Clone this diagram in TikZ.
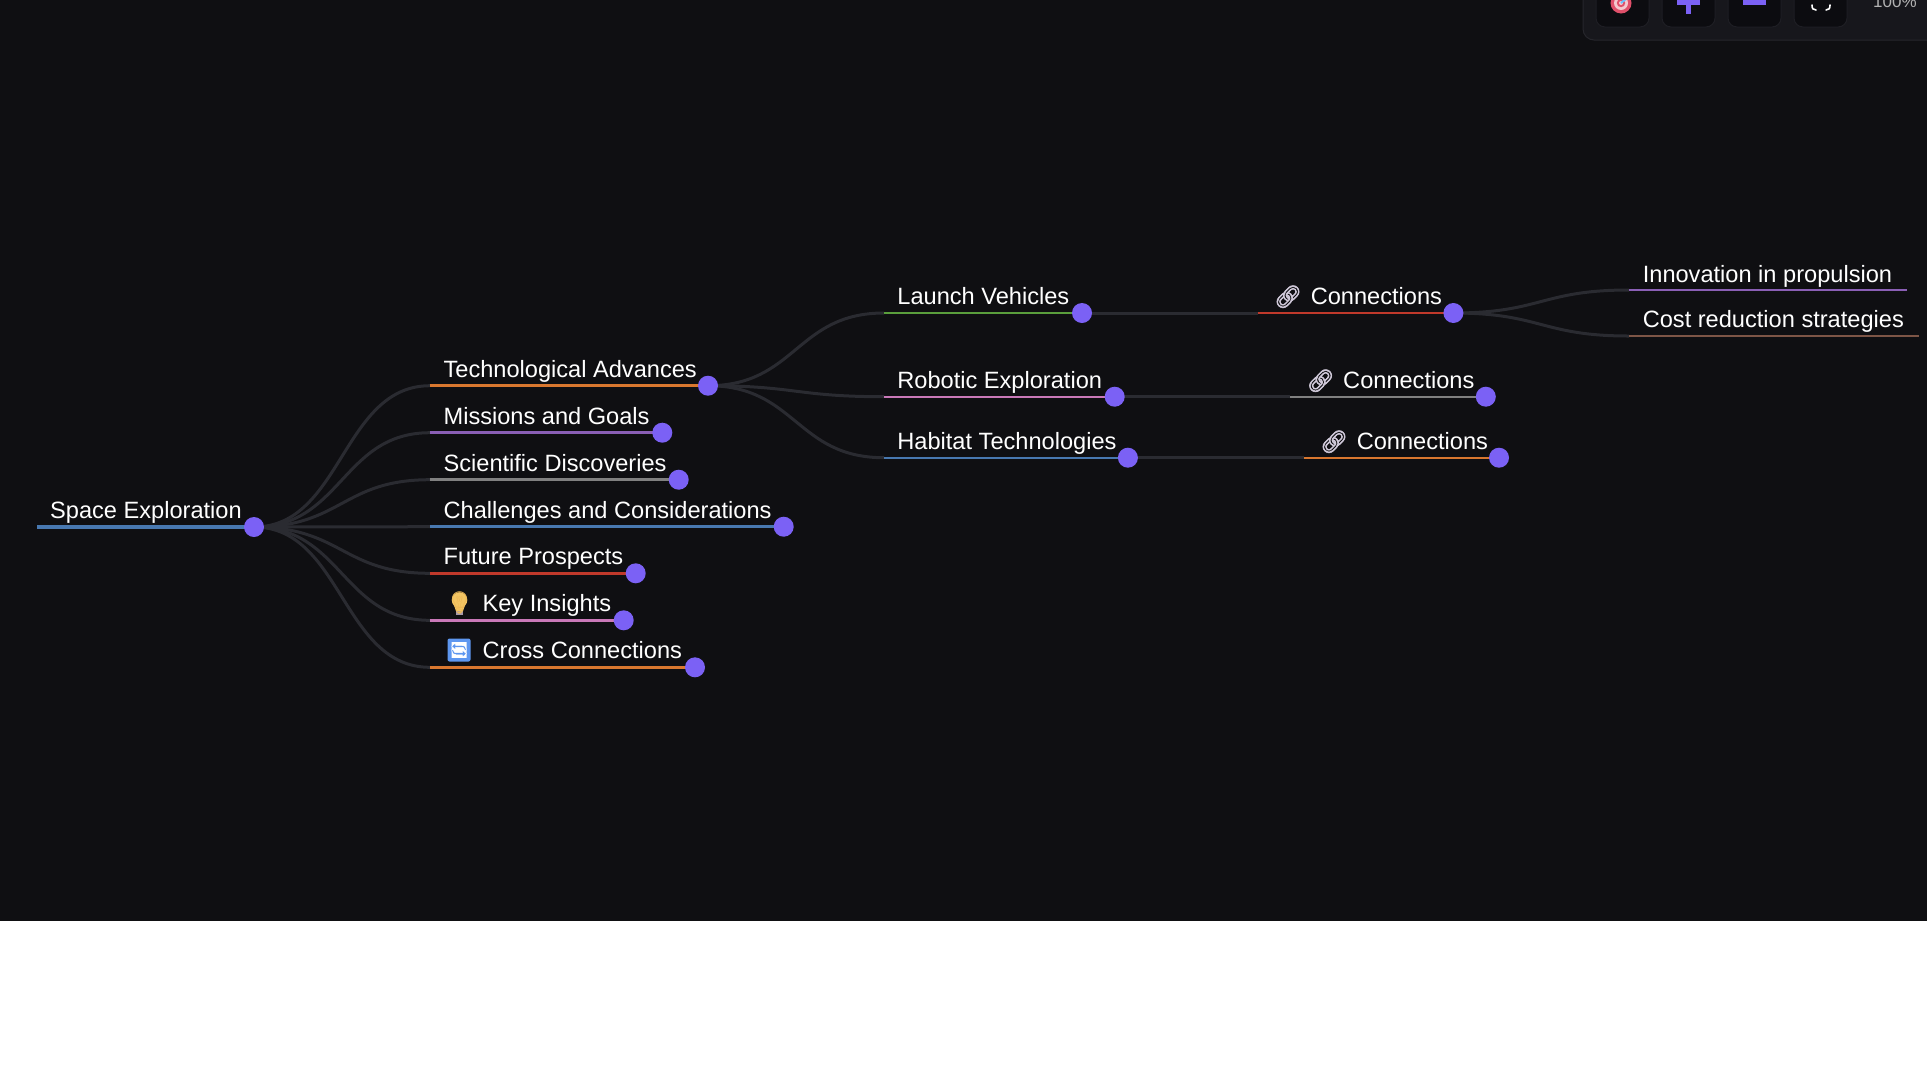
\documentclass[tikz,border=0pt]{standalone}
\usepackage{fontspec}
\setmainfont{Liberation Sans}
\newfontfamily\emojifont{Noto Emoji}
\newfontfamily\emojibold[FakeBold=2.5]{Noto Emoji}
\usetikzlibrary{calc,backgrounds}
\definecolor{pagebg}{HTML}{0F0F12}
\definecolor{linkc}{HTML}{2A2B31}
\definecolor{dotc}{HTML}{7B61F5}
\definecolor{lblue}{HTML}{4878B0}
\definecolor{lorange}{HTML}{D9772F}
\definecolor{lpurple}{HTML}{8A5FB5}
\definecolor{lgray}{HTML}{808080}
\definecolor{lred}{HTML}{C0392B}
\definecolor{lpink}{HTML}{C978B8}
\definecolor{lgreen}{HTML}{5A9E3C}
\definecolor{lbrown}{HTML}{7D5546}
\definecolor{panelc}{HTML}{17171C}
\definecolor{panelb}{HTML}{26262C}
\definecolor{btnc}{HTML}{0C0C10}
\definecolor{btnb}{HTML}{1E1E24}
\definecolor{linkicon}{HTML}{CFC8D8}
\definecolor{bulbc}{HTML}{F3C563}
\definecolor{bulbd}{HTML}{EDB957}
\definecolor{bulbb}{HTML}{A89AA8}
\definecolor{syncbg}{HTML}{5E97F0}
\definecolor{tgred}{HTML}{E0506A}
\definecolor{tgpale}{HTML}{F4C8CE}
\tikzset{
  lbl/.style={anchor=base west,inner sep=0pt,text=white,font=\fontsize{23.6}{28}\selectfont},
  emo/.style={anchor=center,inner sep=0pt,font=\emojibold\fontsize{22}{26}\selectfont},
  dot/.style={circle,fill=dotc,draw=none,minimum size=20pt,inner sep=0pt},
  link/.style={draw=linkc,line width=3pt},
  under/.style={line width=3pt},
  thin under/.style={line width=2.2pt},
  panel/.style={draw=panelb,fill=panelc,line width=1pt,rounded corners=11pt},
  btn/.style={draw=btnb,fill=btnc,line width=1pt,rounded corners=9pt},
}
\newcommand{\curvelink}[2]{\draw[link] (#1.center) .. controls ($(#1.center)!0.5!(#1.center-|#2)$) and ($(#2)!0.5!(#2-|#1.center)$) .. (#2);}
\begin{document}
\begin{tikzpicture}[x=1pt,y=-1pt]
\useasboundingbox (0,0) rectangle (1927,1080);
\clip (0,0) rectangle (1927,1080);
% dots and line starts
\node[dot] (d0) at (254,527) {};
\coordinate (s0) at (37,527);
\node[dot] (d1) at (708,385.7) {};   \coordinate (s1) at (430,385.7);
\node[dot] (d2) at (662.3,432.7) {}; \coordinate (s2) at (430,432.7);
\node[dot] (d3) at (678.7,479.7) {}; \coordinate (s3) at (430,479.7);
\node[dot] (d4) at (783.7,526.7) {}; \coordinate (s4) at (430,526.7);
\node[dot] (d5) at (635.7,573.3) {}; \coordinate (s5) at (430,573.3);
\node[dot] (d6) at (623.7,620.3) {}; \coordinate (s6) at (430,620.3);
\node[dot] (d7) at (695,667.3) {}; \coordinate (s7) at (430,667.3);
\node[dot] (e1) at (1082,313) {};  \coordinate (t1) at (884,313);
\node[dot] (e2) at (1114.7,396.7) {}; \coordinate (t2) at (884,396.7);
\node[dot] (e3) at (1127.9,457.7) {}; \coordinate (t3) at (884,457.7);
\node[dot] (f1) at (1453.4,313) {}; \coordinate (u1) at (1258,313);
\node[dot] (f2) at (1485.8,396.7) {}; \coordinate (u2) at (1290.4,396.7);
\node[dot] (f3) at (1499,457.7) {}; \coordinate (u3) at (1304,457.7);
\coordinate (v1) at (1629,290); \coordinate (w1) at (1907,290);
\coordinate (v2) at (1629,336); \coordinate (w2) at (1919,336);
\begin{pgfonlayer}{background}
  \fill[white] (0,0) rectangle (1927,1080);
  \fill[pagebg] (0,0) rectangle (1927,921);
  % connectors
  \foreach \k in {1,...,7} {\curvelink{d0}{s\k}}
  \foreach \k in {1,2,3} {\curvelink{d1}{t\k}}
  \draw[link] (e1.center) -- (u1);
  \draw[link] (e2.center) -- (u2);
  \draw[link] (e3.center) -- (u3);
  \curvelink{f1}{v1}
  \curvelink{f1}{v2}
  % underlines
  \draw[under,lblue,line width=3.6pt] (s0) -- (d0.center);
  \draw[under,lorange] (s1) -- (d1.center);
  \draw[under,lpurple] (s2) -- (d2.center);
  \draw[under,lgray] (s3) -- (d3.center);
  \draw[under,lblue] (s4) -- (d4.center);
  \draw[under,lred] (s5) -- (d5.center);
  \draw[under,lpink] (s6) -- (d6.center);
  \draw[under,lorange] (s7) -- (d7.center);
  \draw[thin under,lgreen] (t1) -- (e1.center);
  \draw[thin under,lpink] (t2) -- (e2.center);
  \draw[thin under,lblue] (t3) -- (e3.center);
  \draw[thin under,lred] (u1) -- (f1.center);
  \draw[thin under,lgray] (u2) -- (f2.center);
  \draw[thin under,lorange] (u3) -- (f3.center);
  \draw[thin under,lpurple] (v1) -- (w1);
  \draw[thin under,lbrown] (v2) -- (w2);
\end{pgfonlayer}
% labels
\node[lbl] (n0) at (50,518.8) {Space Exploration};
\node[lbl] (n1) at (443.4,377.8) {Technological Advances};
\node[lbl] (n2) at (443.4,424.8) {Missions and Goals};
\node[lbl] (n3) at (443.4,471.8) {Scientific Discoveries};
\node[lbl] (n4) at (443.4,518.8) {Challenges and Considerations};
\node[lbl] (n5) at (443.4,564.8) {Future Prospects};
\node[lbl] (n6) at (482.4,611.8) {Key Insights};
\node[lbl] (n7) at (482.4,658.8) {Cross Connections};
% bulb: filled glass and base under the glyph
\fill[bulbc] (459.5,600) circle (7.8pt);
\fill[bulbc] (453.5,604) -- (465.5,604) -- (463,611) -- (456,611) -- cycle;
\fill[bulbb] (456,611) rectangle (463.2,615);
\node[emo,font=\emojifont\fontsize{22}{26}\selectfont,text=bulbd] (i6) at (459.5,603) {\char"1F4A1};
\node[fill=syncbg,rounded corners=2pt,minimum size=23pt,inner sep=0pt] (i7b) at (459,650) {};
\begin{scope}
\clip (451.5,642.5) rectangle (466.5,657.5);
\node[emo,text=white,font=\emojibold\fontsize{20}{24}\selectfont] (i7) at (459,650) {\char"1F504};
\end{scope}
\node[lbl] (m1) at (897.2,304.8) {Launch Vehicles};
\node[lbl] (m2) at (897.2,388.8) {Robotic Exploration};
\node[lbl] (m3) at (897.2,449.8) {Habitat Technologies};
\node[lbl] (c1) at (1310.6,304.8) {Connections};
\node[lbl] (c2) at (1343,388.8) {Connections};
\node[lbl] (c3) at (1356.6,449.8) {Connections};
\node[emo,text=linkicon] (j1) at (1288,296.7) {\char"1F517};
\node[emo,text=linkicon] (j2) at (1320.6,380.7) {\char"1F517};
\node[emo,text=linkicon] (j3) at (1334,441.7) {\char"1F517};
\node[lbl] (o1) at (1642.6,282) {Innovation in propulsion};
\node[lbl] (o2) at (1642.6,327.8) {Cost reduction strategies};
% toolbar
\draw[panel] (1583,-20) rectangle (1960,40);
\draw[btn] (1596,-20) rectangle (1649,27);
\draw[btn] (1662,-20) rectangle (1715,27);
\draw[btn] (1728,-20) rectangle (1781,27);
\draw[btn] (1794,-20) rectangle (1847,27);
\fill[tgred] (1621,3) circle (10.5pt);
\fill[tgpale] (1621,3) circle (7pt);
\fill[tgred] (1621,3) circle (4.2pt);
\fill[tgpale] (1621,3) circle (2pt);
\draw[line width=2pt,color=blue!40!cyan!60!white] (1621,3) -- (1627,-2);
\fill[dotc] (1677,0) rectangle (1700,5);
\fill[dotc] (1686,0) rectangle (1691,14);
\fill[dotc] (1743,0) rectangle (1766,5);
\draw[white,line width=1.6pt,line cap=round] (1812,5) .. controls (1812,8.5) and (1813,10) .. (1816,10);
\draw[white,line width=1.6pt,line cap=round] (1830,5) .. controls (1830,8.5) and (1829,10) .. (1826,10);
\node[anchor=base west,inner sep=0pt,text=white!70!black,font=\fontsize{17}{20}\selectfont] (zm) at (1873,7) {100\%};
\end{tikzpicture}
\end{document}
